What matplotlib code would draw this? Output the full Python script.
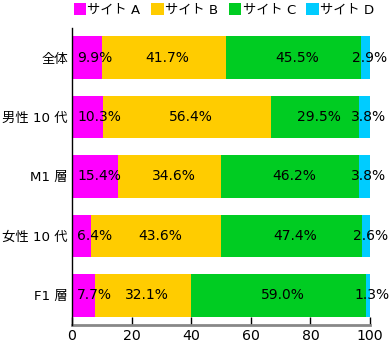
import matplotlib
matplotlib.use("Agg")
import matplotlib.pyplot as plt
from matplotlib.patches import Patch
from matplotlib.transforms import offset_copy
import numpy as np

# Latin letters and digits from DejaVu Sans, Japanese from Noto Sans CJK JP
plt.rcParams['font.family'] = ['DejaVu Sans', 'Noto Sans CJK JP']

categories = ["全体", "男性 10 代", "M1 層", "女性 10 代", "F1 層"]
series_names = ["サイト A", "サイト B", "サイト C", "サイト D"]
site_a = [9.9, 10.3, 15.4, 6.4, 7.7]
site_b = [41.7, 56.4, 34.6, 43.6, 32.1]
site_c = [45.5, 29.5, 46.2, 47.4, 59.0]
site_d = [2.9, 3.8, 3.8, 2.6, 1.3]
x_ticks = [0, 20, 40, 60, 80, 100]

colors = ["#ff00ff", "#ffcc00", "#00cc22", "#00ccff"]
series = [site_a, site_b, site_c, site_d]

fig = plt.figure(figsize=(3.9, 3.45), dpi=100)
ax = fig.add_axes([72 / 390, 1 - 325 / 345, 298 / 390, 297 / 345])

y = np.arange(len(categories))
left = np.zeros(len(categories))
for vals, col in zip(series, colors):
    vals = np.asarray(vals)
    ax.barh(y, vals, left=left, height=0.72, color=col, linewidth=0)
    left = left + vals

# value labels
center_tr = offset_copy(ax.transData, fig=fig, x=4, y=0, units='dots')
left_tr = offset_copy(ax.transData, fig=fig, x=5, y=0, units='dots')
left = np.zeros(len(categories))
for si, vals in enumerate(series):
    for i, v in enumerate(vals):
        txt = f"{v:.1f}%"
        if si == 0:
            ax.text(left[i], y[i], txt, ha='left', va='center', fontsize=10,
                    color='black', transform=left_tr)
        else:
            ax.text(left[i] + v / 2, y[i], txt, ha='center', va='center',
                    fontsize=10, color='black', transform=center_tr)
    left = left + np.asarray(vals)

ax.set_xlim(0, 100)
ax.set_ylim(len(categories) - 0.5, -0.5)
ax.set_yticks(y)
ax.set_yticklabels(categories, fontsize=9.6)
ax.tick_params(axis='y', length=0, pad=3)
ax.set_xticks(x_ticks)
ax.set_xticklabels([str(t) for t in x_ticks], fontsize=10.2)
ax.tick_params(axis='x', direction='in', length=6, width=1, color='black', pad=3)

for s in ['top', 'right']:
    ax.spines[s].set_visible(False)
ax.spines['left'].set_color('black')
ax.spines['left'].set_linewidth(1)
ax.spines['bottom'].set_color('#888888')
ax.spines['bottom'].set_linewidth(2)
ax.spines['left'].set_zorder(5)

handles = [Patch(facecolor=c, edgecolor='none') for c in colors]
fig.legend(handles, series_names, loc='upper left', bbox_to_anchor=(71 / 390, 0.998),
           ncol=4, frameon=False, fontsize=9.5, handlelength=0.95, handleheight=0.95,
           handletextpad=0.1, columnspacing=0.8, borderaxespad=0, borderpad=0.2)

fig.savefig("out.png", dpi=100)
